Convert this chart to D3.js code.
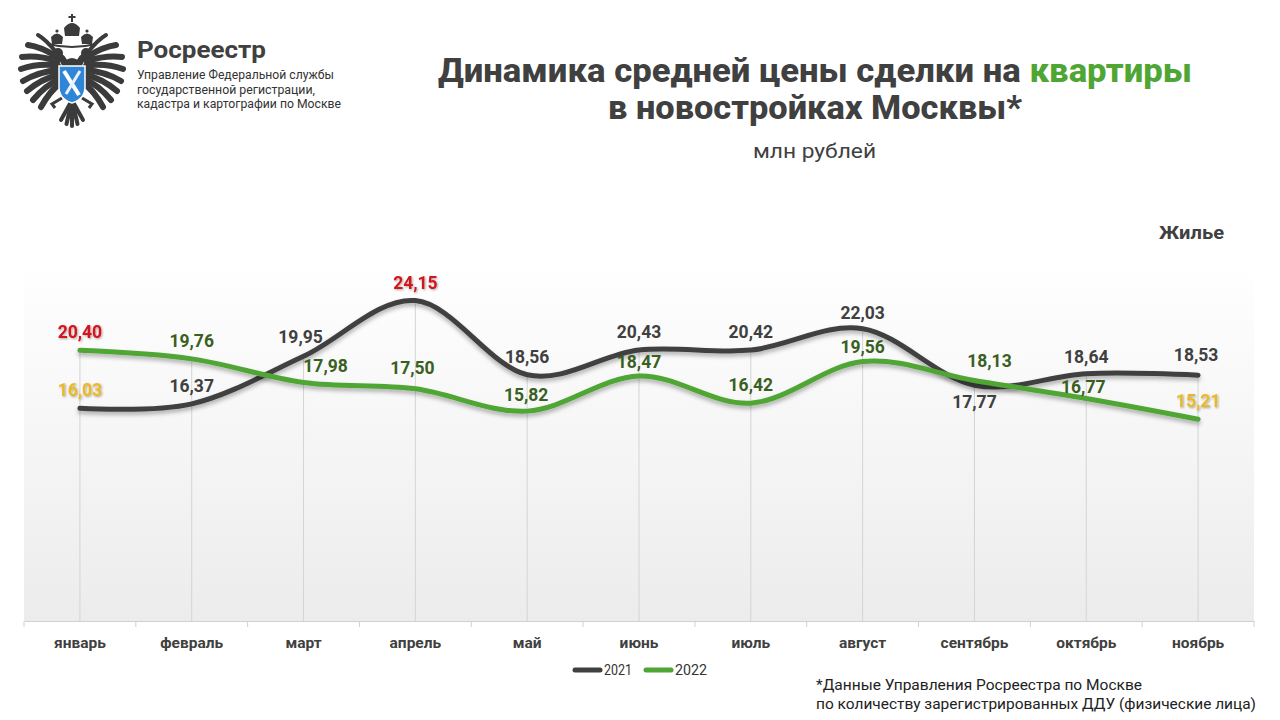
<!DOCTYPE html>
<html><head><meta charset="utf-8">
<script src="https://cdn.jsdelivr.net/npm/d3@7/dist/d3.min.js"></script>
<style>
html,body{margin:0;padding:0;background:#fff;}
svg{display:block;}
text{font-family:Roboto,"Open Sans",sans-serif;}
</style></head>
<body>
<svg id="c" width="1280" height="720"></svg>
<script>
// ---- data ----
const months = ["январь","февраль","март","апрель","май","июнь","июль","август","сентябрь","октябрь","ноябрь"];
const values2021 = [16.03,16.37,19.95,24.15,18.56,20.43,20.42,22.03,17.77,18.64,18.53];
const values2022 = [20.40,19.76,17.98,17.50,15.82,18.47,16.42,19.56,18.13,16.77,15.21];
const seriesNames = ["2021","2022"];
const titleLine1 = "Динамика средней цены сделки на ";
const titleAccent = "квартиры";
const titleLine2 = "в новостройках Москвы*";
const unitText = "млн рублей";
const cornerText = "Жилье";
const footLines = ["*Данные Управления Росреестра по Москве","по количеству зарегистрированных ДДУ (физические лица)"];
const orgName = "Росреестр";
const orgLines = ["Управление Федеральной службы","государственной регистрации,","кадастра и картографии по Москве"];

// ---- drawing ----
const svg = d3.select("#c");
const dark = "#404040", green = "#50a634", greenLbl = "#3a5f22", red = "#d3131b", yellow = "#ecb928";
const defs = svg.append("defs");
const grad = defs.append("linearGradient").attr("id","bg").attr("x1",0).attr("y1",0).attr("x2",0).attr("y2",1);
grad.append("stop").attr("offset","0%").attr("stop-color","#ffffff");
grad.append("stop").attr("offset","100%").attr("stop-color","#ececec");
const sh = defs.append("filter").attr("id","sh").attr("x","-10%").attr("y","-30%").attr("width","120%").attr("height","160%");
sh.append("feDropShadow").attr("dx",0).attr("dy",3).attr("stdDeviation",2).attr("flood-color","#000").attr("flood-opacity",0.3);
const tsh = defs.append("filter").attr("id","tsh").attr("x","-20%").attr("y","-40%").attr("width","140%").attr("height","180%");
tsh.append("feDropShadow").attr("dx",1).attr("dy",1).attr("stdDeviation",0.8).attr("flood-color","#000").attr("flood-opacity",0.35);

const plot = {left:24, right:1254, top:262, bottom:621};
const x = d3.scaleBand().domain(months).range([plot.left, plot.right]).padding(0);
const y = d3.scaleLinear().domain([0,30]).range([plot.bottom, 223]);
const cx = m => x(m) + x.bandwidth()/2;

svg.append("rect").attr("x",plot.left).attr("y",plot.top).attr("width",plot.right-plot.left).attr("height",plot.bottom-plot.top).attr("fill","url(#bg)");

// drop lines
svg.append("g").selectAll("line").data(months).join("line")
  .attr("x1",m=>cx(m)).attr("x2",m=>cx(m))
  .attr("y1",(m,i)=>y(Math.max(values2021[i],values2022[i]))).attr("y2",plot.bottom)
  .attr("stroke","#d4d4d4").attr("stroke-width",1);

// axis
const xAxis = d3.axisBottom(x).tickSize(0).tickPadding(16);
const ax = svg.append("g").attr("transform",`translate(0,${plot.bottom})`).call(xAxis);
ax.select(".domain").attr("stroke","#d0d0d0");
ax.selectAll(".tick text").attr("font-family","Roboto").attr("font-weight",700).attr("font-size",15.5).attr("fill",dark);
const bounds = months.map(m=>x(m)).concat([plot.right]);
svg.append("g").selectAll("line").data(bounds).join("line")
  .attr("x1",d=>d).attr("x2",d=>d).attr("y1",plot.bottom).attr("y2",plot.bottom+6)
  .attr("stroke","#d0d0d0");

// lines
const line = d3.line().x(d=>cx(d.m)).y(d=>y(d.v)).curve(d3.curveCardinal.tension(0));
const series = [
  {name:seriesNames[0], vals:values2021, color:dark, lbl:dark},
  {name:seriesNames[1], vals:values2022, color:green, lbl:greenLbl}
];
series.forEach(s=>{
  svg.append("path").datum(s.vals.map((v,i)=>({m:months[i],v})))
    .attr("d",line).attr("fill","none").attr("stroke",s.color).attr("stroke-width",5)
    .attr("stroke-linecap","round").attr("filter","url(#sh)");
});

// labels
const nudge = { "0-2":[-3,-19], "0-7":[0,-16], "0-8":[0,17], "0-9":[0,-17], "0-10":[-2,-20],
  "1-2":[22,-16], "1-3":[-3,-21], "1-4":[-1,-16], "1-5":[0,-14], "1-7":[0,-15], "1-8":[15,-19], "1-9":[-3,-12] };
const fmt = v => d3.format(".2f")(v).replace(".",",");
series.forEach((s,si)=>{
  const mx = d3.max(s.vals), mn = d3.min(s.vals);
  svg.append("g").selectAll("text").data(s.vals).join("text")
    .attr("x",(v,i)=>cx(months[i]) + ((nudge[si+"-"+i]||[0,-18])[0]))
    .attr("y",(v,i)=>y(v) + ((nudge[si+"-"+i]||[0,-18])[1]))
    .attr("text-anchor","middle").attr("dominant-baseline","central")
    .attr("font-family","Roboto").attr("font-weight",700).attr("font-size",17.5)
    .attr("fill",v=> v===mx ? red : v===mn ? yellow : s.lbl)
    .attr("filter",v=> (v===mx||v===mn) ? "url(#tsh)" : null)
    .text(fmt);
});

// legend
const lg = svg.append("g");
[[575,600,604,dark,seriesNames[0]],[646,671,675,green,seriesNames[1]]].forEach(([a,b,t,c,n])=>{
  lg.append("line").attr("x1",a).attr("x2",b).attr("y1",670).attr("y2",670).attr("stroke",c).attr("stroke-width",5).attr("stroke-linecap","round");
  lg.append("text").attr("x",t).attr("y",670).attr("dominant-baseline","central").attr("font-size",15).attr("fill","#333")
    .attr("textLength",n===seriesNames[0]?28:32).attr("lengthAdjust","spacingAndGlyphs").text(n);
});

// titles
const t1 = svg.append("text").attr("x",438).attr("y",82).attr("font-family","Open Sans").attr("font-weight",800).attr("font-size",33).attr("fill",dark)
  .attr("textLength",754).attr("lengthAdjust","spacingAndGlyphs");
t1.append("tspan").text(titleLine1);
t1.append("tspan").attr("fill",green).text(titleAccent);
svg.append("text").attr("x",608).attr("y",119).attr("font-family","Open Sans").attr("font-weight",800).attr("font-size",33).attr("fill",dark)
  .attr("textLength",414).attr("lengthAdjust","spacingAndGlyphs").text(titleLine2);
svg.append("text").attr("x",753).attr("y",158).attr("font-family","Open Sans").attr("font-size",21).attr("fill",dark)
  .attr("textLength",123).attr("lengthAdjust","spacingAndGlyphs").text(unitText);
svg.append("text").attr("x",1159).attr("y",239).attr("font-family","Roboto").attr("font-weight",700).attr("font-size",19).attr("fill",dark)
  .attr("textLength",65).attr("lengthAdjust","spacingAndGlyphs").text(cornerText);

// footnote
svg.append("g").selectAll("text").data(footLines).join("text")
  .attr("x",816).attr("y",(d,i)=>690+i*19).attr("font-size",14.5).attr("fill","#222")
  .attr("textLength",(d,i)=>i===0?326:440).attr("lengthAdjust","spacingAndGlyphs").text(d=>d);

// logo text
svg.append("text").attr("x",137).attr("y",58).attr("font-family","Roboto").attr("font-weight",700).attr("font-size",24).attr("fill",dark)
  .attr("textLength",129).attr("lengthAdjust","spacingAndGlyphs").text(orgName);
svg.append("g").selectAll("text").data(orgLines).join("text")
  .attr("x",137).attr("y",(d,i)=>79+i*14.5).attr("font-family","Roboto").attr("font-size",12.5).attr("fill","#333")
  .attr("textLength",(d,i)=>[197,178,204][i]).attr("lengthAdjust","spacingAndGlyphs").text(d=>d);

// emblem
const em = svg.append("g").attr("transform","translate(72,70)");
const ec = "#3b3b3b";
const tipsL = [[-34,-35],[-44,-25],[-50,-13],[-51,-1],[-49,11],[-45,21],[-39,30],[-31,37]];
const rootsL = d3.range(tipsL.length).map(i=>[-16+ i*0.6, -18 + i*4.5]);
[1,-1].forEach(sg=>{
  tipsL.forEach((t,i)=>{
    const r = rootsL[i];
    em.append("path").attr("d",`M${sg*r[0]},${r[1]} Q${sg*(r[0]+t[0])/2*1.05},${(r[1]+t[1])/2-4} ${sg*t[0]},${t[1]}`)
      .attr("fill","none").attr("stroke",ec).attr("stroke-width",i===0?4:6).attr("stroke-linecap","round");
  });
  em.append("path").attr("d",`M${sg*6},2 Q${sg*6},-10 ${sg*13},-14`).attr("fill","none").attr("stroke",ec).attr("stroke-width",7);
  em.append("circle").attr("cx",sg*14).attr("cy",-17).attr("r",5).attr("fill",ec);
  em.append("path").attr("d",`M${sg*18},-19 L${sg*25},-16 L${sg*18},-13 Z`).attr("fill",ec);
  em.append("path").attr("d",`M${sg*10},-26 L${sg*9},-33 Q${sg*15},-40 ${sg*21},-33 L${sg*20},-26 Z`).attr("fill",ec);
  em.append("circle").attr("cx",sg*15).attr("cy",-39).attr("r",1.6).attr("fill",ec);
  em.append("path").attr("d",`M${sg*10},28 L${sg*20},34 L${sg*17},38`).attr("fill","none").attr("stroke",ec).attr("stroke-width",3);
});
em.append("path").attr("d","M-24,-26 Q0,-20 24,-26").attr("fill","none").attr("stroke",ec).attr("stroke-width",2);
em.append("path").attr("d","M-7,-34 L-8,-42 Q0,-52 8,-42 L7,-34 Z").attr("fill",ec);
em.append("rect").attr("x",-1).attr("y",-56).attr("width",2).attr("height",8).attr("fill",ec);
em.append("rect").attr("x",-3.5).attr("y",-54).attr("width",7).attr("height",2).attr("fill",ec);
em.append("ellipse").attr("cx",0).attr("cy",8).attr("rx",13).attr("ry",20).attr("fill",ec);
[[-11,50],[-5.5,54],[0,56],[5.5,54],[11,50]].forEach(t=>{
  em.append("line").attr("x1",0).attr("y1",30).attr("x2",t[0]).attr("y2",t[1]).attr("stroke",ec).attr("stroke-width",4).attr("stroke-linecap","round");
});
em.append("path").attr("d","M-13,-4 H13 V17 Q13,29 0,33 Q-13,29 -13,17 Z").attr("fill","#2f86d6").attr("stroke","#fff").attr("stroke-width",1.5);
em.append("line").attr("x1",-8).attr("y1",1).attr("x2",7).attr("y2",25).attr("stroke","#fff").attr("stroke-width",4);
em.append("line").attr("x1",8).attr("y1",1).attr("x2",-6).attr("y2",24).attr("stroke","#e8f2fb").attr("stroke-width",3);
</script>
</body></html>
